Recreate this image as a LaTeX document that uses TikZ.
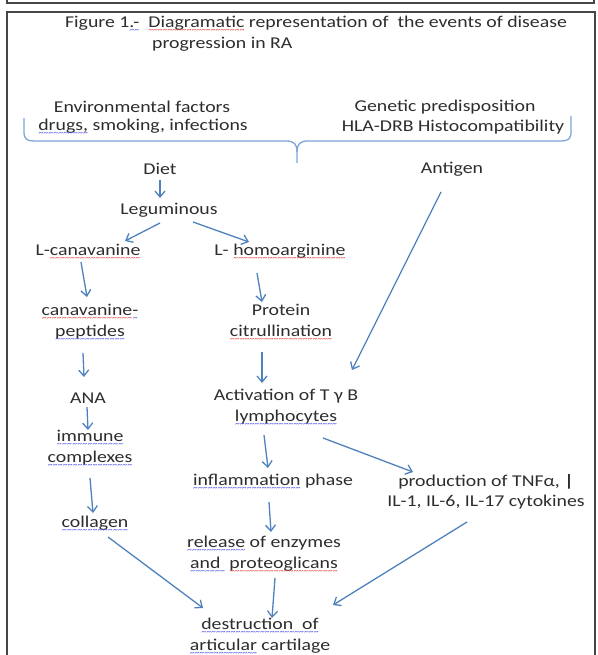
\documentclass[tikz,border=0pt]{standalone}
\usepackage{fontspec}
\setmainfont{Carlito}[FakeStretch=1.2]
\usetikzlibrary{arrows.meta,calc}

\definecolor{arrowblue}{RGB}{79,129,189}
\definecolor{braceblue}{RGB}{125,165,215}
\definecolor{textgray}{RGB}{45,45,45}
\definecolor{framegray}{RGB}{70,70,70}
\definecolor{spellred}{RGB}{225,40,40}
\definecolor{spellblue}{RGB}{50,60,225}

\newsavebox\wavebox
\newcommand\wavy[2]{\sbox\wavebox{#2}\rlap{\usebox\wavebox}\hbox to \wd\wavebox{\color{#1}\fontsize{8}{8}\selectfont\xleaders\hbox{\lower5pt\hbox{\char"7E}}\hfill}}
\newcommand\redwave[1]{\wavy{spellred}{#1}}
\newcommand\bluewave[1]{\wavy{spellblue}{#1}}

\begin{document}
\begin{tikzpicture}[x=1pt,y=-1pt,
    txt/.style={font=\fontsize{16.5}{20.5}\selectfont, text=textgray, align=center, inner sep=0pt},
    arr/.style={draw=arrowblue, line width=1.3pt, -{Straight Barb[length=6pt,width=10pt]}}]
\useasboundingbox (0,0) rectangle (597,655);
% frames
\draw[framegray, line width=1.6pt] (7,-5) rectangle (594,3);
\draw[framegray, line width=1.6pt] (7,665) -- (7,12) -- (595,12) -- (595,665);

% title
\node[txt] (title1) at (316,24) {Figure 1\bluewave{.-}\ \ \redwave{Diagramatic} representation of\ \ the events of disease};
\node[txt, anchor=west] (title2) at (152,44) {progression in RA};

% causes
\node[txt] (env) at (142,107) {Environmental factors};
\node[txt] (drugs) at (143,127) {\bluewave{drugs,} smoking, infections};
\node[txt] (gen) at (445,107) {Genetic predisposition};
\node[txt] (hla) at (453,127) {HLA-DRB Histocompatibility};
\draw[braceblue, line width=1.3pt] (24,118) -- (24,132) .. controls (24,139) and (27,141) .. (34,141)
    -- (286,141) .. controls (294,141) and (297,144) .. (297,152) -- (297,163);
\draw[braceblue, line width=1.3pt] (297,152) .. controls (297,144) and (300,141) .. (308,141)
    -- (561,141) .. controls (568,141) and (571,139) .. (571,132) -- (571,116);

% nodes
\node[txt] (diet) at (160,169) {Diet};
\node[txt] (legum) at (169,210) {Leguminous};
\node[txt] (lcan) at (88,252) {L-\redwave{canavanine}};
\node[txt] (lhomo) at (280,252) {L- \redwave{homoarginine}};
\node[txt] (canpep) at (90,323) {\redwave{canavanine}\bluewave{-}\\\bluewave{peptides}};
\node[txt] (protein) at (281,323) {Protein\\\redwave{citrullination}};
\node[txt] (antigen) at (452,169) {Antigen};
\node[txt] (ana) at (88,398) {ANA};
\node[txt] (activ) at (286,408) {Activation of T γ B\\\bluewave{lymphocytes}};
\node[txt] (immune) at (90,449) {\bluewave{immune}\\\bluewave{complexes}};
\node[txt] (inflam) at (273,482) {\bluewave{inflammation} phase};
\node[txt] (prod) at (486,492) {production of TNFα, \textbf{|}\\IL-1, IL-6, IL-17 cytokines};
\node[txt] (collagen) at (95,524) {\bluewave{collagen}};
\node[txt] (release) at (264,555) {\bluewave{release} of enzymes\\\bluewave{and\ } \redwave{proteoglicans}};
\node[txt] (destr) at (260,637) {\bluewave{destruction\ \ of}\\\bluewave{articular} cartilage};

% arrows
\draw[arr] ($(diet)+(0,11)$) -- ($(legum)+(-9,-12)$);
\draw[arr] ($(legum)+(-9,13)$) -- ($(lcan)+(37,-11)$);
\draw[arr] ($(legum)+(24,12)$) -- ($(lhomo)+(-31,-10)$);
\draw[arr] ($(lcan)+(-7,10)$) -- ($(canpep)+(-3,-26)$);
\draw[arr] ($(lhomo)+(-23,21)$) -- ($(protein)+(-19,-21)$);
\draw[arr] ($(antigen)+(-11,23)$) -- ($(activ)+(66,-38)$);
\draw[arr] ($(canpep)+(-7,30)$) -- ($(ana)+(-4,-21)$);
\draw[arr] ($(protein)+(-19,29)$) -- ($(activ)+(-24,-25)$);
\draw[arr] ($(ana)+(-1,9)$) -- ($(immune)+(-2,-19)$);
\draw[arr] ($(activ)+(-22,27)$) -- ($(inflam)+(-5,-14)$);
\draw[arr] ($(activ)+(37,30)$) -- ($(prod)+(-73,-20)$);
\draw[arr] ($(immune)+(0,29)$) -- ($(collagen)+(-2,-11)$);
\draw[arr] ($(inflam)+(-4,20)$) -- ($(release)+(7,-23)$);
\draw[arr] ($(collagen)+(13,13)$) -- ($(destr)+(-57,-29)$);
\draw[arr] ($(release)+(11,23)$) -- ($(destr)+(12,-19)$);
\draw[arr] ($(prod)+(-19,30)$) -- ($(destr)+(73,-32)$);
\end{tikzpicture}
\end{document}
